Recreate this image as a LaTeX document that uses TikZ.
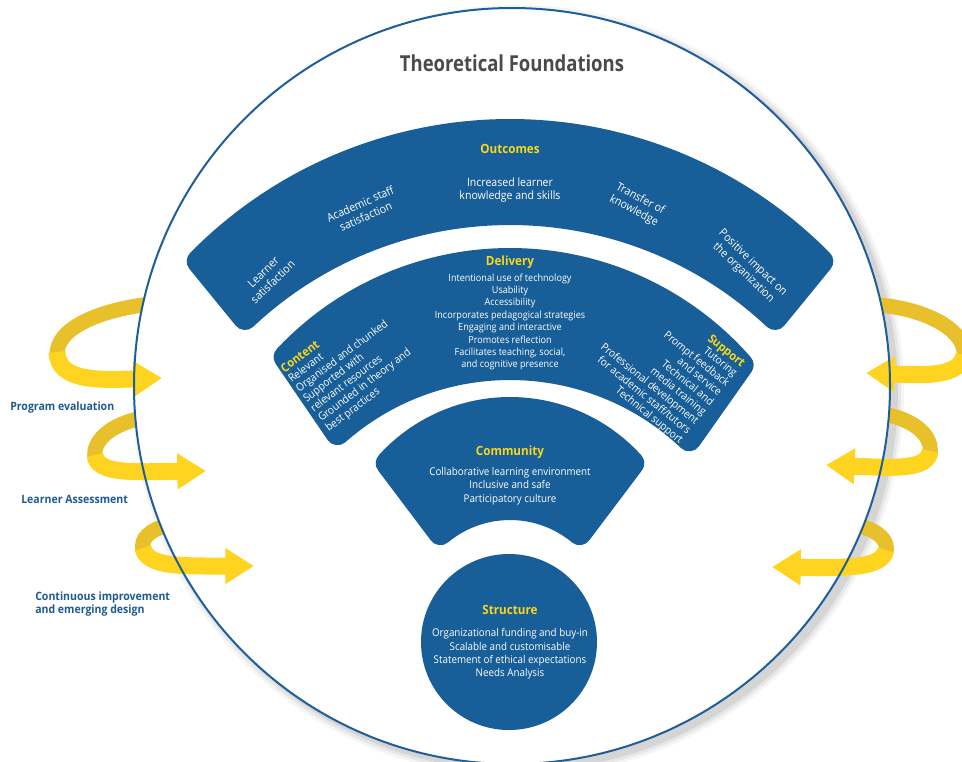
\documentclass[tikz,border=0pt]{standalone}
\usepackage{fontspec}
\usetikzlibrary{arrows.meta}
\newfontfamily\bodyfont{Open Sans}[FakeStretch=0.92]
\newfontfamily\titlefont{Open Sans}[FakeStretch=0.84]
\definecolor{bandblue}{HTML}{185E98}
\definecolor{labelyellow}{HTML}{F9D71C}
\definecolor{ribbonfront}{HTML}{FFD420}
\definecolor{ribbonback}{HTML}{E8C02C}
\definecolor{titlegray}{HTML}{4A4A4A}
\definecolor{rimblue}{HTML}{1E5E9A}
\definecolor{sideblue}{HTML}{1E5A92}
\begin{document}
\begin{tikzpicture}[x=0.75pt,y=-0.75pt,
  band/.style={fill=bandblue,draw=bandblue,line width=18pt,line join=round},
  bandhead/.style={text=labelyellow,font=\bodyfont\bfseries\fontsize{9.5}{11}\selectfont,inner sep=0pt},
  bandtext/.style={text=white,font=\bodyfont\fontsize{8}{10}\selectfont,align=center,inner sep=0pt},
  arctext/.style={bandtext,font=\bodyfont\fontsize{8.6}{10.2}\selectfont},
  sidetext/.style={text=white,font=\bodyfont\fontsize{8.2}{9.2}\selectfont,inner sep=0pt},
  sidelabel/.style={text=sideblue,font=\bodyfont\bfseries\fontsize{8.6}{10}\selectfont,anchor=west,align=left,inner sep=0pt},
  backpart/.style={draw=ribbonback,line width=11.25pt},
  frontpart/.style={draw=ribbonfront,line width=12.75pt,-{Triangle[width=25.5pt,length=21.5pt]}}]
\useasboundingbox (0,0) rectangle (962,761);

\foreach \s/\o in {8/0.04,5/0.06,2/0.08}
  \fill[black,opacity=\o] (518,391) circle[radius=378+\s];

\draw[backpart] (150,304) .. controls (100,310) and (55,328) .. (57,356);
\draw[backpart] (142,418) .. controls (112,424) and (92,440) .. (95,458);
\draw[backpart] (168,525) .. controls (150,530) and (140,538) .. (143,551);
\draw[backpart] (880,305) .. controls (930,310) and (968,332) .. (964,358);
\draw[backpart] (884,414) .. controls (915,420) and (933,436) .. (930,454);
\draw[backpart] (860,526) .. controls (878,531) and (889,540) .. (886,553);

\fill[white] (512,386) circle[radius=378];

\filldraw[band] ([shift={(510,568)}]-135.43:437) arc[start angle=-135.43,end angle=-44.57,radius=437]
  -- ([shift={(510,600)}]-46.78:387) arc[start angle=-46.78,end angle=-133.22,radius=387] -- cycle;
\filldraw[band] ([shift={(510,568)}]-136.77:308) arc[start angle=-136.77,end angle=-41.23,radius=308]
  -- ([shift={(510,629)}]-46.63:261) arc[start angle=-46.63,end angle=-131.37,radius=261] -- cycle;
\filldraw[band] ([shift={(510,574)}]-137.83:165) arc[start angle=-137.83,end angle=-42.17,radius=165]
  -- ([shift={(510,617)}]-50.31:109) arc[start angle=-50.31,end angle=-129.69,radius=109] -- cycle;
\fill[bandblue] (509,642) circle[radius=88];

\node (title) at (512,63) [text=titlegray,font=\titlefont\bfseries\fontsize{16.5}{19}\selectfont] {Theoretical Foundations};

\node (outcomes) at (510,149) [bandhead] {Outcomes};
\node (lsat) at (268,277) [arctext,rotate=44] {Learner\\satisfaction};
\node (asat) at (363,210) [arctext,rotate=24] {Academic staff\\satisfaction};
\node (know) at (510,190) [arctext] {Increased learner\\knowledge and skills};
\node (trans) at (637,205) [arctext,rotate=-28] {Transfer of\\knowledge};
\node (impact) at (748,268) [arctext,rotate=-44] {Positive impact on\\the organization};

\node (delivery) at (510,262) [bandhead] {Delivery};
\node (delitems) at (510,322) [bandtext,font=\bodyfont\fontsize{7.4}{9.3}\selectfont] {Intentional use of technology\\Usability\\Accessibility\\Incorporates pedagogical strategies\\Engaging and interactive\\Promotes reflection\\Facilitates teaching, social,\\and cognitive presence};

\node (content) at (279,366) [sidetext,align=left,anchor=north west,rotate=37] {{\color{labelyellow}\bfseries\fontsize{9}{10}\selectfont Content}\\Relevant\\Organised and chunked\\Supported with\\relevant resources\\Grounded in theory and\\best practices};
\node (support) at (747,361) [sidetext,align=right,anchor=north east,rotate=-39] {{\color{labelyellow}\bfseries\fontsize{9}{10}\selectfont Support}\\Tutoring\\Prompt feedback\\and service\\Technical and\\media training\\Professional development\\for academic staff/tutors\\Technical support};

\node (community) at (510,452) [bandhead] {Community};
\node (commitems) at (510,486) [bandtext] {Collaborative learning environment\\Inclusive and safe\\Participatory culture};

\node (structure) at (510,610) [bandhead] {Structure};
\node (structitems) at (510,654) [bandtext] {Organizational funding and buy-in\\Scalable and customisable\\Statement of ethical expectations\\Needs Analysis};

\draw[frontpart] (57,352) .. controls (58,382) and (100,380) .. (162,378);
\draw[frontpart] (95,455) .. controls (97,474) and (130,472) .. (206,471);
\draw[frontpart] (143,548) .. controls (147,567) and (180,566) .. (254,566);
\draw[frontpart] (964,355) .. controls (960,378) and (920,375) .. (866,373);
\draw[frontpart] (930,451) .. controls (928,470) and (895,468) .. (826,465);
\draw[frontpart] (886,550) .. controls (882,568) and (850,568) .. (772,567);

\draw[rimblue,line width=1.5pt] (512,386) circle[radius=378];

\node (progeval) at (10,408) [sidelabel] {Program evaluation};
\node (assess) at (21,499) [sidelabel] {Learner Assessment};
\node (improve) at (35,604) [sidelabel] {Continuous improvement\\and emerging design};
\end{tikzpicture}
\end{document}
